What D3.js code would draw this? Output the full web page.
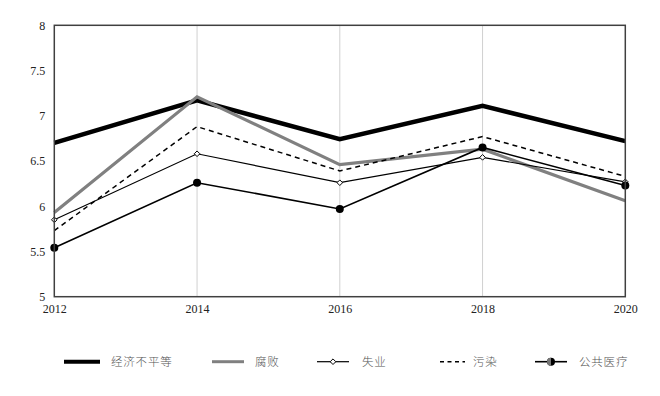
<!DOCTYPE html>
<html><head><meta charset="utf-8">
<script src="https://cdn.jsdelivr.net/npm/d3@7"></script>
<style>body{margin:0;background:#fff}</style>
</head><body><svg id="c" width="660" height="396"></svg>
<script>
const years = [2012, 2014, 2016, 2018, 2020];
const yTicks = [5, 5.5, 6, 6.5, 7, 7.5, 8];
const yTickLabels = ["5", "5.5", "6", "6.5", "7", "7.5", "8"];
const seriesNames = ["经济不平等", "腐败", "失业", "污染", "公共医疗"];
const inequality = [6.70, 7.17, 6.74, 7.11, 6.72];
const corruption = [5.93, 7.21, 6.46, 6.63, 6.06];
const unemployment = [5.85, 6.58, 6.26, 6.54, 6.27];
const pollution = [5.73, 6.88, 6.39, 6.77, 6.33];
const healthcare = [5.54, 6.26, 5.97, 6.65, 6.23];

const styles = [
  {color:"#000", width:4.5, dash:null, marker:null},
  {color:"#808080", width:3.2, dash:null, marker:null},
  {color:"#000", width:1.2, dash:null, marker:"diamond"},
  {color:"#000", width:1.5, dash:"5,4", marker:null},
  {color:"#000", width:1.6, dash:null, marker:"circle"}
];
const data = [inequality, corruption, unemployment, pollution, healthcare];

const svg = d3.select("#c");
const L = 54.3, R = 625.3, T = 25.3, B = 296.7;
const x = d3.scaleLinear().domain([2012, 2020]).range([L, R]);
const y = d3.scaleLinear().domain([5, 8]).range([B, T]);

// grid
svg.append("g").selectAll("line").data(years.slice(1, -1)).join("line")
  .attr("x1", d => x(d)).attr("x2", d => x(d)).attr("y1", T).attr("y2", B)
  .attr("stroke", "#d0d0d0").attr("stroke-width", 1);

// series lines
const line = d3.line().x((d, i) => x(years[i])).y(d => y(d));
data.forEach((vals, k) => {
  const s = styles[k];
  svg.append("path").datum(vals).attr("d", line)
    .attr("fill", "none").attr("stroke", s.color).attr("stroke-width", s.width)
    .attr("stroke-dasharray", s.dash).attr("stroke-linejoin", "miter");
});
// markers
function drawMarker(g, type, cx, cy, legend) {
  if (type === "diamond") {
    const r = 2.8;
    g.append("path").attr("d", `M${cx},${cy-r}L${cx+r},${cy}L${cx},${cy+r}L${cx-r},${cy}Z`)
      .attr("fill", "#fff").attr("stroke", "#000").attr("stroke-width", 1);
  } else if (type === "circle") {
    const r = 4;
    g.append("circle").attr("cx", cx).attr("cy", cy).attr("r", r).attr("fill", "#000");
    if (legend) {
      g.append("path").attr("d", `M${cx},${cy-r}A${r},${r} 0 0 0 ${cx},${cy+r}Z`).attr("fill", "#777");
    }
  }
}
data.forEach((vals, k) => {
  const s = styles[k];
  if (!s.marker) return;
  const g = svg.append("g");
  vals.forEach((v, i) => drawMarker(g, s.marker, x(years[i]), y(v), false));
});

// frame
svg.append("rect").attr("x", L).attr("y", T).attr("width", R - L).attr("height", B - T)
  .attr("fill", "none").attr("stroke", "#404040").attr("stroke-width", 1.5);

// axes labels
const yAxis = d3.axisLeft(y).tickValues(yTicks).tickFormat((d, i) => yTickLabels[i]).tickSize(0).tickPadding(9);
const ga = svg.append("g").attr("transform", `translate(${L},0)`).call(yAxis);
ga.select(".domain").remove();
ga.selectAll("text").attr("font-family", "Liberation Serif").attr("font-size", 12).attr("fill", "#222");

const xAxis = d3.axisBottom(x).tickValues(years).tickFormat(d3.format("d")).tickSize(0).tickPadding(8);
const gx = svg.append("g").attr("transform", `translate(0,${B})`).call(xAxis);
gx.select(".domain").remove();
gx.selectAll("text").attr("font-family", "Liberation Serif").attr("font-size", 12).attr("fill", "#222");

// legend
const legY = 361.7;
const legItems = [
  {x1:64, x2:100, tx:111},
  {x1:212, x2:244, tx:255},
  {x1:317, x2:349, tx:362},
  {x1:440, x2:465, tx:473},
  {x1:535, x2:567, tx:579}
];
legItems.forEach((it, k) => {
  const s = styles[k];
  const g = svg.append("g");
  g.append("line").attr("x1", it.x1).attr("x2", it.x2).attr("y1", legY).attr("y2", legY)
    .attr("stroke", s.color).attr("stroke-width", k === 0 ? 4 : (k === 1 ? 3 : s.width))
    .attr("stroke-dasharray", k === 3 ? "4,3.5" : null);
  if (s.marker) drawMarker(g, s.marker, (it.x1 + it.x2) / 2, legY, true);
  g.append("text").attr("x", it.tx).attr("y", legY + 4.2).text(seriesNames[k])
    .attr("font-family", "Noto Sans CJK SC").attr("font-weight", 300).attr("font-size", 11.5)
    .attr("letter-spacing", 0.8).attr("fill", "#555");
});
</script></body></html>
